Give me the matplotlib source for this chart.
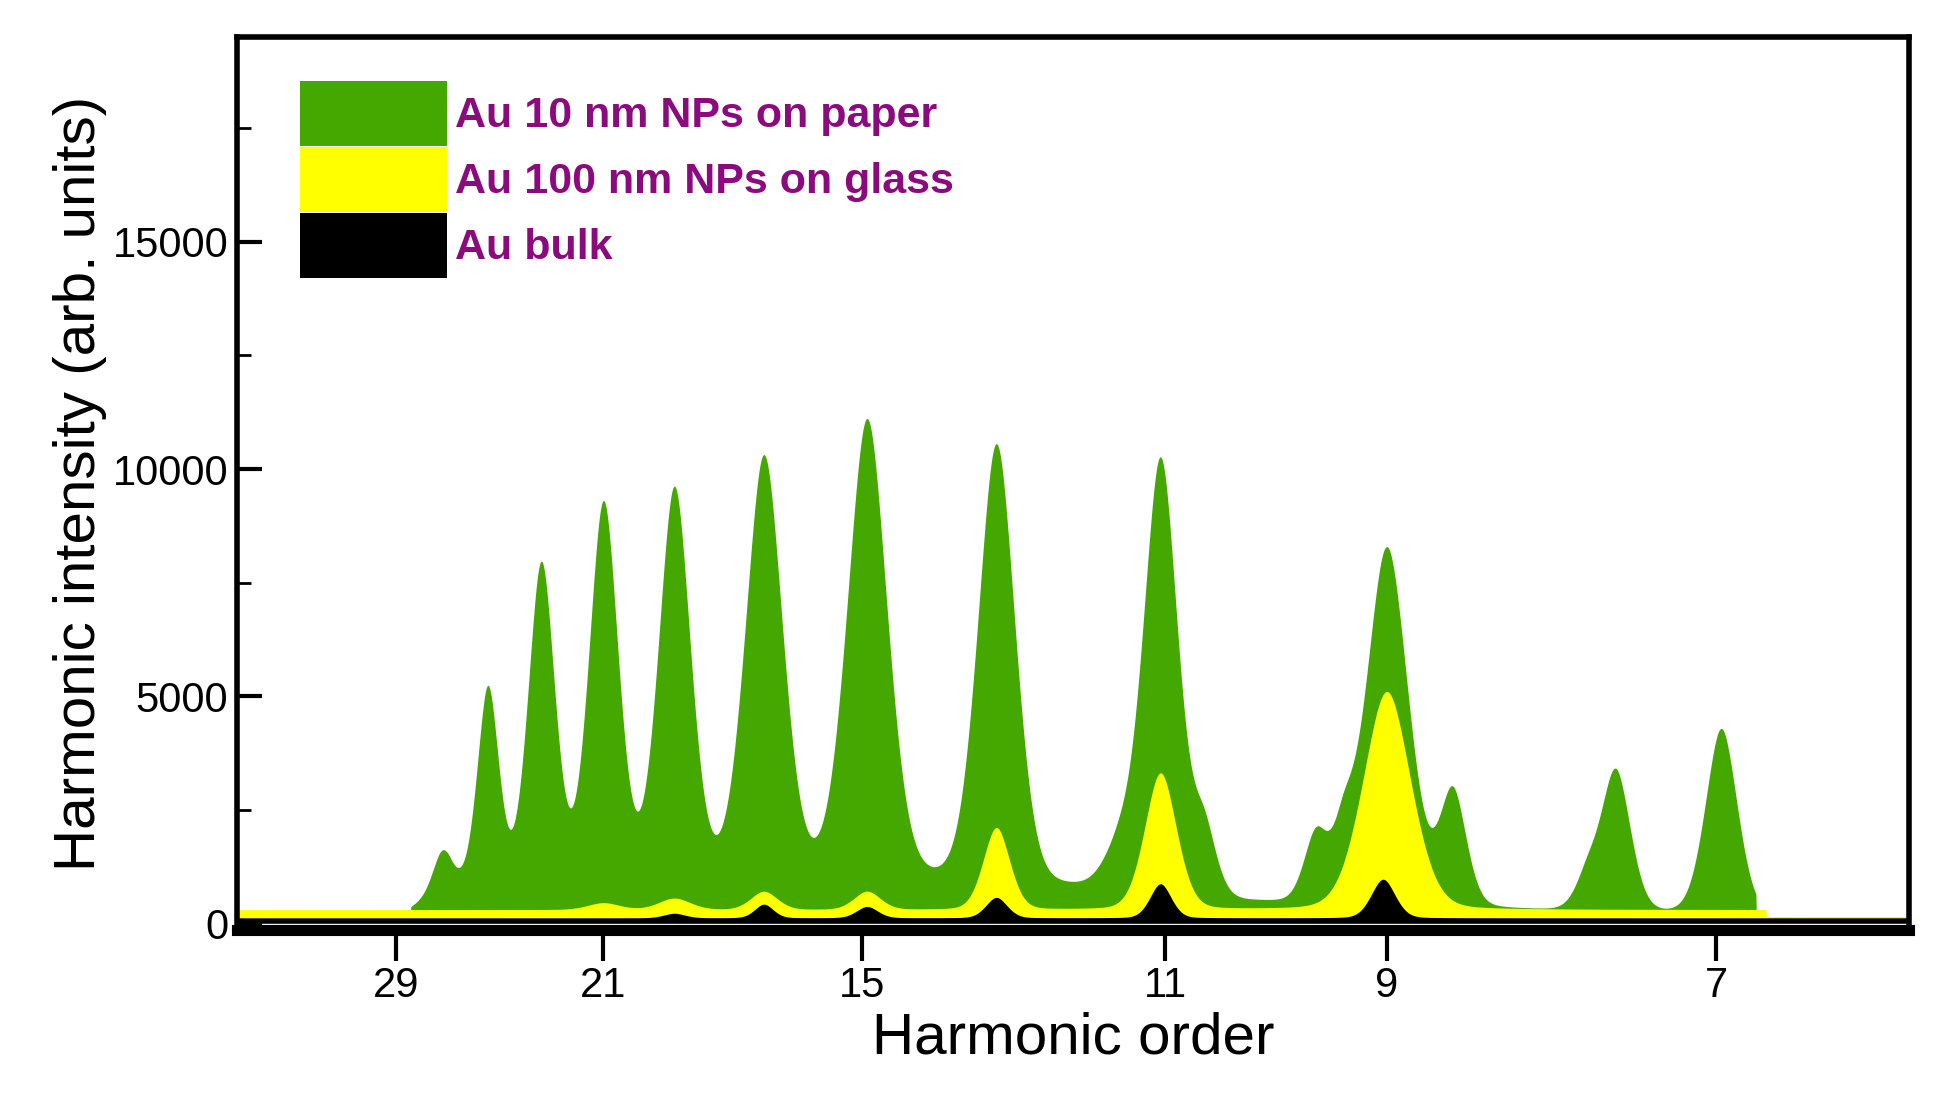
import numpy as np
import matplotlib
matplotlib.use("Agg")
import matplotlib.pyplot as plt

plt.rcParams['font.family'] = ['Liberation Sans', 'DejaVu Sans']

# spectral position axis (arbitrary detector units)
x = np.linspace(190, 1535, 2700)

# peaks: (center, height, half-width)
green_centers = [355, 392, 435, 485, 542, 614, 697, 801, 900, 933, 968, 1058, 1080, 1115, 1168, 1276, 1299, 1384]
green_heights = [800, 4300, 7000, 8300, 8600, 9300, 10100, 9700, 900, 9600, 1400, 1500, 1200, 7900, 2500, 700, 3100, 4100]
green_widths  = [7, 8, 10, 11, 12, 14, 15, 14, 12, 13, 9, 9, 8, 16, 10, 9, 11, 12]
green_base = [(330, 300), (360, 800), (700, 900), (860, 700), (1000, 400), (1250, 250), (1412, 150)]

yellow_centers = [485, 542, 614, 697, 801, 933, 1115]
yellow_heights = [150, 250, 400, 400, 1800, 3000, 4800]
yellow_widths  = [12, 12, 10, 10, 10, 12, 18]
yellow_base = 300

black_centers = [542, 614, 697, 801, 933, 1112]
black_heights = [100, 300, 250, 450, 750, 850]
black_widths  = [8, 7, 8, 8, 8, 9]
black_base = 120

labels = ['Au 10 nm NPs on paper', 'Au 100 nm NPs on glass', 'Au bulk']
colors = ['#45A800', '#FFFF00', '#000000']
xtick_pos = [318, 485, 693, 937, 1115, 1380]
xtick_lab = ['29', '21', '15', '11', '9', '7']

def spectrum(c, h, w):
    y = np.zeros_like(x)
    for ci, hi, wi in zip(c, h, w):
        g = np.exp(-0.5 * ((x - ci) / (wi * 1.1)) ** 2)
        l = 1 / (1 + ((x - ci) / wi) ** 2)
        y += hi * (0.8 * g + 0.2 * l)
    return y

gb_x = [p[0] for p in green_base]
gb_y = [p[1] for p in green_base]
green = spectrum(green_centers, green_heights, green_widths) + np.interp(x, gb_x, gb_y, left=0, right=0)
green[(x < 330) | (x > 1412)] = 0
yellow = spectrum(yellow_centers, yellow_heights, yellow_widths) + yellow_base
yellow[x > 1420] = 150
black = spectrum(black_centers, black_heights, black_widths) + black_base

fig = plt.figure(figsize=(19.4, 11.02), dpi=100)
ax = fig.add_axes([0.122, 0.156, 0.862, 0.81])
ax.fill_between(x, 0, green, color=colors[0], lw=0, label=labels[0])
ax.fill_between(x, 0, yellow, color=colors[1], lw=0, label=labels[1])
ax.fill_between(x, 0, black, color=colors[2], lw=0, label=labels[2])

ax.set_xlim(190, 1535)
ax.set_ylim(-150, 19500)
ax.set_xticks(xtick_pos)
ax.set_xticklabels(xtick_lab)
ax.set_yticks([0, 5000, 10000, 15000])
ax.set_yticks([2500, 7500, 12500, 17500], minor=True)
ax.tick_params(axis='y', direction='in', length=18, width=3, labelsize=30, pad=6)
ax.tick_params(axis='y', which='minor', direction='in', length=10, width=2)
ax.tick_params(axis='x', direction='out', length=22, width=3, labelsize=30)
for s in ['top', 'right', 'left']:
    ax.spines[s].set_linewidth(4)
ax.spines['bottom'].set_linewidth(8)

ax.set_xlabel('Harmonic order', fontsize=42)
ax.set_ylabel('Harmonic intensity (arb. units)', fontsize=42, labelpad=4)

leg = ax.legend(loc='upper left', frameon=False, fontsize=31, handlelength=3.4,
                handleheight=1.95, labelspacing=0.02, handletextpad=0.2,
                borderaxespad=0.3, bbox_to_anchor=(0.02, 0.985))
for t in leg.get_texts():
    t.set_color('#8B0A7E')
    t.set_fontweight('bold')

fig.savefig('out.png', dpi=100)
